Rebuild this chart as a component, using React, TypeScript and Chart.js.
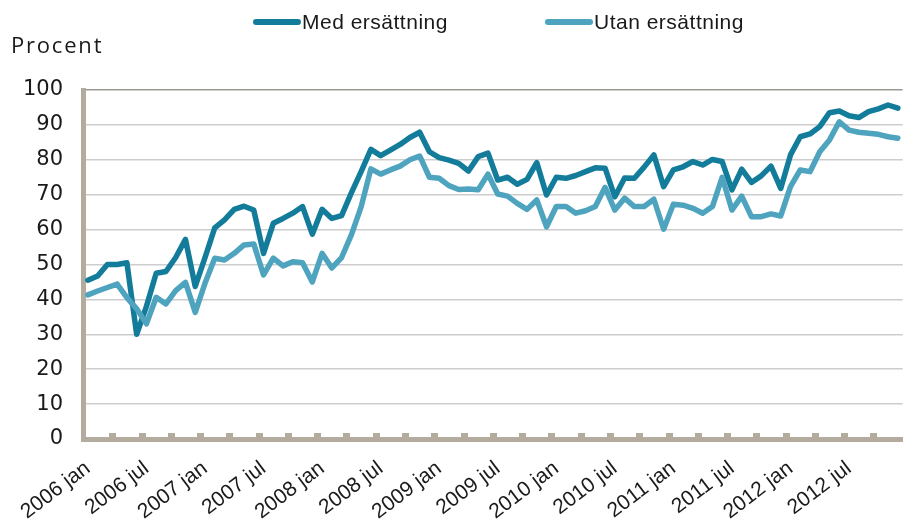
import React, { useEffect, useRef } from "react";
import { Chart, registerables } from "chart.js";

Chart.register(...registerables);

// ---- Data ----
const years = ["2006", "2007", "2008", "2009", "2010", "2011", "2012"];
const monthNames = ["jan", "feb", "mar", "apr", "maj", "jun", "jul", "aug", "sep", "okt", "nov", "dec"];
const labeledMonths = ["jan", "jul"];
const categories: string[] = years.flatMap((y) => monthNames.map((m) => `${y} ${m}`));

const seriesNames = ["Med ersättning", "Utan ersättning"];

const medErsattning = [
  45.5, 46.7, 50, 50, 50.5, 30, 38, 47.5, 48, 52, 57.2, 43.7,
  52, 60.5, 62.8, 65.8, 66.7, 65.6, 53.2, 61.8, 63.2, 64.7, 66.6, 58.7,
  65.8, 63.2, 64, 70.5, 76.6, 83, 81.2, 82.8, 84.4, 86.4, 87.9, 82.3,
  80.6, 79.9, 79, 76.8, 80.9, 81.9, 74.2, 75, 73, 74.4, 79.2, 69.9,
  75, 74.7, 75.5, 76.6, 77.7, 77.6, 69.4, 74.8, 74.7, 77.9, 81.4, 72.3,
  77.1, 78, 79.5, 78.5, 80.1, 79.5, 71.4, 77.3, 73.5, 75.4, 78.2, 71.8,
  81.4, 86.6, 87.4, 89.5, 93.5, 94, 92.6, 92.1, 93.8, 94.6, 95.7, 94.8,
];

const utanErsattning = [
  41.3, 42.4, 43.4, 44.4, 40.5, 37.3, 33, 40.6, 38.7, 42.5, 44.9, 36.3,
  44.6, 51.8, 51.3, 53.2, 55.6, 55.9, 47, 51.8, 49.6, 50.8, 50.5, 45,
  53.2, 49, 52, 58.5, 66.5, 77.4, 75.9, 77.1, 78.2, 80, 81.1, 75,
  74.7, 72.6, 71.5, 71.6, 71.4, 75.9, 70.2, 69.6, 67.5, 65.8, 68.5, 60.8,
  66.6, 66.6, 64.7, 65.4, 66.6, 72.1, 65.6, 69, 66.6, 66.6, 68.7, 60.1,
  67.3, 67, 66.1, 64.7, 66.6, 75, 65.6, 69.6, 63.7, 63.7, 64.5, 63.9,
  72.3, 77.1, 76.6, 82.3, 85.7, 90.9, 88.5, 87.9, 87.6, 87.3, 86.6, 86.2,
];

const yMin = 0;
const yMax = 100;
const yStep = 10;
const yAxisTitle = "Procent";

// ---- Styles ----
const darkColor = "#137c9b";
const lightColor = "#4ea3be";
const axisColor = "#b3ab9e";
const gridColor = "#cdcdcd";
const topGridColor = "#9b9a92";
const textColor = "#1a1a1a";

const decorPlugin = {
  id: "decor",
  afterDraw(chart: any) {
    const ctx = chart.ctx;
    const xs = chart.scales.x;
    const area = chart.chartArea;
    const half = (xs.getPixelForValue(1) - xs.getPixelForValue(0)) / 2;
    ctx.save();
    // inward tick marks every quarter on the x axis
    ctx.fillStyle = axisColor;
    for (let k = 3; k < categories.length; k += 3) {
      const px = xs.getPixelForValue(k) - half;
      ctx.fillRect(Math.round(px - 3), area.bottom - 6, 7, 5);
    }
    // legend
    const legendStarts = [253, 545];
    const legendY = 22;
    ctx.font = "21px 'Liberation Sans', Arial, sans-serif";
    (ctx as any).letterSpacing = "0.5px";
    ctx.textBaseline = "middle";
    ctx.textAlign = "left";
    chart.data.datasets.forEach((ds: any, i: number) => {
      const x0 = legendStarts[i];
      ctx.strokeStyle = ds.borderColor;
      ctx.lineWidth = 6;
      ctx.lineCap = "round";
      ctx.beginPath();
      ctx.moveTo(x0 + 3, legendY);
      ctx.lineTo(x0 + 45, legendY);
      ctx.stroke();
      ctx.fillStyle = textColor;
      ctx.fillText(ds.label, x0 + 49, legendY + 1);
    });
    // axis title
    ctx.font = "22px 'Open Sans', sans-serif";
    (ctx as any).letterSpacing = "1.8px";
    ctx.fillStyle = textColor;
    ctx.fillText(yAxisTitle, 11, 47);
    ctx.restore();
  },
};

export default function App() {
  const ref = useRef<HTMLCanvasElement | null>(null);

  useEffect(() => {
    if (!ref.current) return;
    const chart = new Chart(ref.current, {
      type: "line",
      data: {
        labels: categories,
        datasets: [
          {
            label: seriesNames[0],
            data: medErsattning,
            borderColor: darkColor,
            backgroundColor: darkColor,
            borderWidth: 5.5,
            pointRadius: 0,
            tension: 0,
            borderJoinStyle: "round",
            borderCapStyle: "round",
            order: 2,
          },
          {
            label: seriesNames[1],
            data: utanErsattning,
            borderColor: lightColor,
            backgroundColor: lightColor,
            borderWidth: 5.5,
            pointRadius: 0,
            tension: 0,
            borderJoinStyle: "round",
            borderCapStyle: "round",
            order: 1,
          },
        ],
      },
      options: {
        animation: false,
        responsive: false,
        devicePixelRatio: 1,
        layout: { padding: { top: 90, left: 0, right: 0, bottom: 0 } },
        plugins: {
          legend: { display: false },
          tooltip: { enabled: false },
          title: { display: false },
        },
        scales: {
          x: {
            type: "category",
            offset: true,
            grid: { display: false, drawTicks: false },
            border: { display: true, color: axisColor, width: 5 },
            ticks: {
              autoSkip: false,
              minRotation: 37,
              maxRotation: 37,
              padding: 17,
              color: textColor,
              font: { family: "'Liberation Sans', Arial, sans-serif", size: 21 },
              callback: (_v: any, i: number) => {
                const lab = categories[i];
                const m = lab.split(" ")[1];
                return labeledMonths.includes(m) ? lab : "";
              },
            },
            afterFit: (scale: any) => {
              scale.height = 81;
            },
          },
          y: {
            min: yMin,
            max: yMax,
            grid: {
              drawTicks: false,
              lineWidth: 1.5,
              color: (c: any) => (c.tick && c.tick.value === yMax ? topGridColor : gridColor),
            },
            border: { display: true, color: axisColor, width: 5 },
            ticks: {
              stepSize: yStep,
              padding: 20,
              color: textColor,
              font: { family: "'DejaVu Sans', sans-serif", size: 21 },
            },
            afterFit: (scale: any) => {
              scale.width = 83;
            },
          },
        },
      },
      plugins: [decorPlugin],
    });
    return () => chart.destroy();
  }, []);

  return (
    <div
      style={{
        position: "absolute",
        left: 0,
        top: 0,
        width: 904,
        height: 520,
        overflow: "hidden",
        background: "#ffffff",
      }}
    >
      <canvas ref={ref} width={930} height={520} style={{ display: "block", width: 930, height: 520 }} />
    </div>
  );
}
